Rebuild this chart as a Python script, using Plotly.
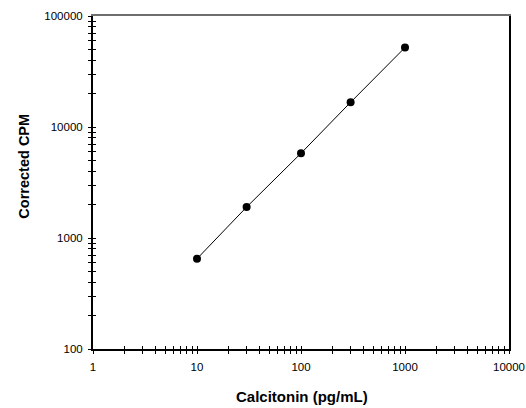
import plotly.graph_objects as go

calcitonin = [10, 30, 100, 300, 1000]
corrected_cpm = [650, 1900, 5800, 16700, 52000]

x_tick_vals = [1, 10, 100, 1000, 10000]
x_tick_text = ["1", "10", "100", "1000", "10000"]
y_tick_vals = [100, 1000, 10000, 100000]
y_tick_text = ["100", "1000", "10000", "100000"]

FONT = "Liberation Sans, Arial, sans-serif"

fig = go.Figure()
fig.add_trace(go.Scatter(
    x=calcitonin, y=corrected_cpm, mode="lines+markers",
    line=dict(color="black", width=1),
    marker=dict(color="black", size=8),
    showlegend=False,
))

xr = [0, 4]
yr = [2, 5]
x_minor = [m * 10**d for d in range(4) for m in range(2, 10)]
y_minor = [m * 10**d for d in range(2, 5) for m in range(2, 10)]
common_minor_out = dict(ticks="outside", ticklen=3, tickcolor="black", tickwidth=1, showgrid=False)
common_minor_in = dict(ticks="inside", ticklen=3, tickcolor="black", tickwidth=1, showgrid=False)

fig.update_layout(
    width=526, height=408,
    margin=dict(l=93, r=17, t=16, b=59, autoexpand=False),
    paper_bgcolor="white", plot_bgcolor="white",
    font=dict(family=FONT, size=11.5, color="black"),
    xaxis=dict(
        type="log", range=xr, tickvals=x_tick_vals, ticktext=x_tick_text,
        ticks="outside", ticklen=3, tickwidth=1, tickcolor="black",
        minor=dict(tickvals=x_minor, **common_minor_out),
        showline=True, linecolor="black", linewidth=1.5,
        showgrid=False, zeroline=False, automargin=False,
        tickfont=dict(size=11.5, family=FONT),
        ticklabelstandoff=3,
    ),
    xaxis2=dict(
        type="log", range=xr, overlaying="x", side="bottom", tickvals=x_tick_vals,
        showticklabels=False, ticks="inside", ticklen=3, tickwidth=1, tickcolor="black",
        minor=dict(tickvals=x_minor, **common_minor_in),
        showline=False, showgrid=False, zeroline=False, automargin=False,
    ),
    xaxis3=dict(
        type="log", range=xr, overlaying="x", side="top",
        showticklabels=False, ticks="", showline=True, linecolor="#6e6e6e", linewidth=2,
        showgrid=False, zeroline=False, automargin=False,
    ),
    yaxis=dict(
        type="log", range=yr, tickvals=y_tick_vals, ticktext=y_tick_text,
        ticks="outside", ticklen=3, tickwidth=1, tickcolor="black",
        minor=dict(tickvals=y_minor, **common_minor_out),
        showline=True, linecolor="black", linewidth=2,
        showgrid=False, zeroline=False, automargin=False,
        tickfont=dict(size=11.5, family=FONT),
        ticklabelstandoff=3,
    ),
    yaxis2=dict(
        type="log", range=yr, overlaying="y", side="left", tickvals=y_tick_vals,
        showticklabels=False, ticks="inside", ticklen=3, tickwidth=1, tickcolor="black",
        minor=dict(tickvals=y_minor, **common_minor_in),
        showline=False, showgrid=False, zeroline=False, automargin=False,
    ),
    yaxis3=dict(
        type="log", range=yr, overlaying="y", side="right",
        showticklabels=False, ticks="", showline=True, linecolor="black", linewidth=1.5,
        showgrid=False, zeroline=False, automargin=False,
    ),
    annotations=[
        dict(text="<b>Calcitonin (pg/mL)</b>", xref="paper", yref="paper",
             x=0.502, y=-0.143, xanchor="center", yanchor="middle", showarrow=False,
             font=dict(size=15, family=FONT, color="black")),
        dict(text="<b>Corrected CPM</b>", xref="paper", yref="paper",
             x=-0.168, y=0.548, xanchor="center", yanchor="middle", showarrow=False,
             textangle=-90, font=dict(size=14.5, family=FONT, color="black")),
    ],
)

fig.add_trace(go.Scatter(x=[None], y=[None], xaxis="x2", yaxis="y2", showlegend=False, hoverinfo="skip"))
fig.add_trace(go.Scatter(x=[None], y=[None], xaxis="x3", yaxis="y3", showlegend=False, hoverinfo="skip"))

fig.write_html(
    "out.html",
    config={"displayModeBar": False},
    post_script="document.documentElement.style.overflow='hidden';"
                "document.body.style.overflow='hidden';"
                "document.body.style.margin='0px';",
)
